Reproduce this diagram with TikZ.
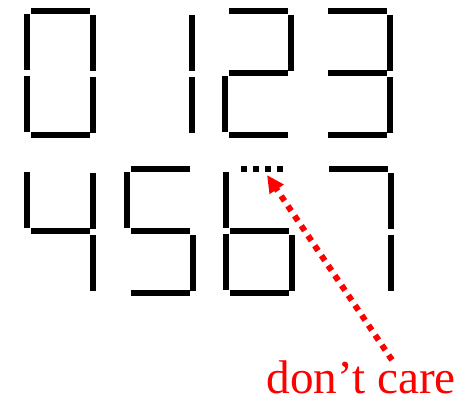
\documentclass[tikz,border=0pt]{standalone}
\usepackage{fontspec}
\setmainfont{Liberation Serif}
\usetikzlibrary{arrows.meta}
\tikzset{
  seg/.style={fill=black},
  dcseg/.style={draw=black, line width=4.5pt, dash pattern=on 4.5pt off 4.5pt},
  dcarrow/.style={draw=red, line width=4.5pt, dash pattern=on 4.5pt off 4.5pt,
    -{Triangle[length=13pt,width=12pt]}},
  dclabel/.style={text=red, font=\fontsize{35.4}{40}\selectfont, inner sep=0pt, anchor=base west}
}
\begin{document}
\begin{tikzpicture}[x=0.75pt,y=-0.75pt]
\useasboundingbox (0,0) rectangle (472,396);
% segments: a b c d e f g (relative to digit origin)
\def\sa{\fill[seg] (7,0) rectangle (66,6);}
\def\sb{\fill[seg] (66,7) rectangle (72,63);}
\def\sc{\fill[seg] (66,69) rectangle (72,125);}
\def\sd{\fill[seg] (7,124) rectangle (66,130);}
\def\se{\fill[seg] (0,68) rectangle (6,124);}
\def\sf{\fill[seg] (0,6) rectangle (6,62);}
\def\sg{\fill[seg] (7,62) rectangle (66,68);}
% 0
\begin{scope}[shift={(24,8)}] \sa\sb\sc\sd\se\sf \end{scope}
% 1
\begin{scope}[shift={(123,8)}] \sb\sc \end{scope}
% 2
\begin{scope}[shift={(222,8)}] \sa\sb\sg\se\sd \end{scope}
% 3
\begin{scope}[shift={(320.5,8)}] \sa\sb\sg\sc\sd \end{scope}
% 4
\begin{scope}[shift={(23.5,166)}] \sf\sg\sb\sc \end{scope}
% 5
\begin{scope}[shift={(124.3,166)}] \sa\sf\sg\sc\sd \end{scope}
% 6
\begin{scope}[shift={(222.7,166)}] \sf\sg\se\sc\sd \end{scope}
\draw[dcseg] (241,169) -- (283,169);
% 7
\begin{scope}[shift={(322,166)}] \sa\sb\sc \end{scope}
% label and arrow
\node[dclabel] (dc) at (266.5,393.5) {don’t care};
\coordinate (from) at (392,360);
\coordinate (tip) at (267,175);
\draw[dcarrow] (from) -- (tip);
\end{tikzpicture}
\end{document}
